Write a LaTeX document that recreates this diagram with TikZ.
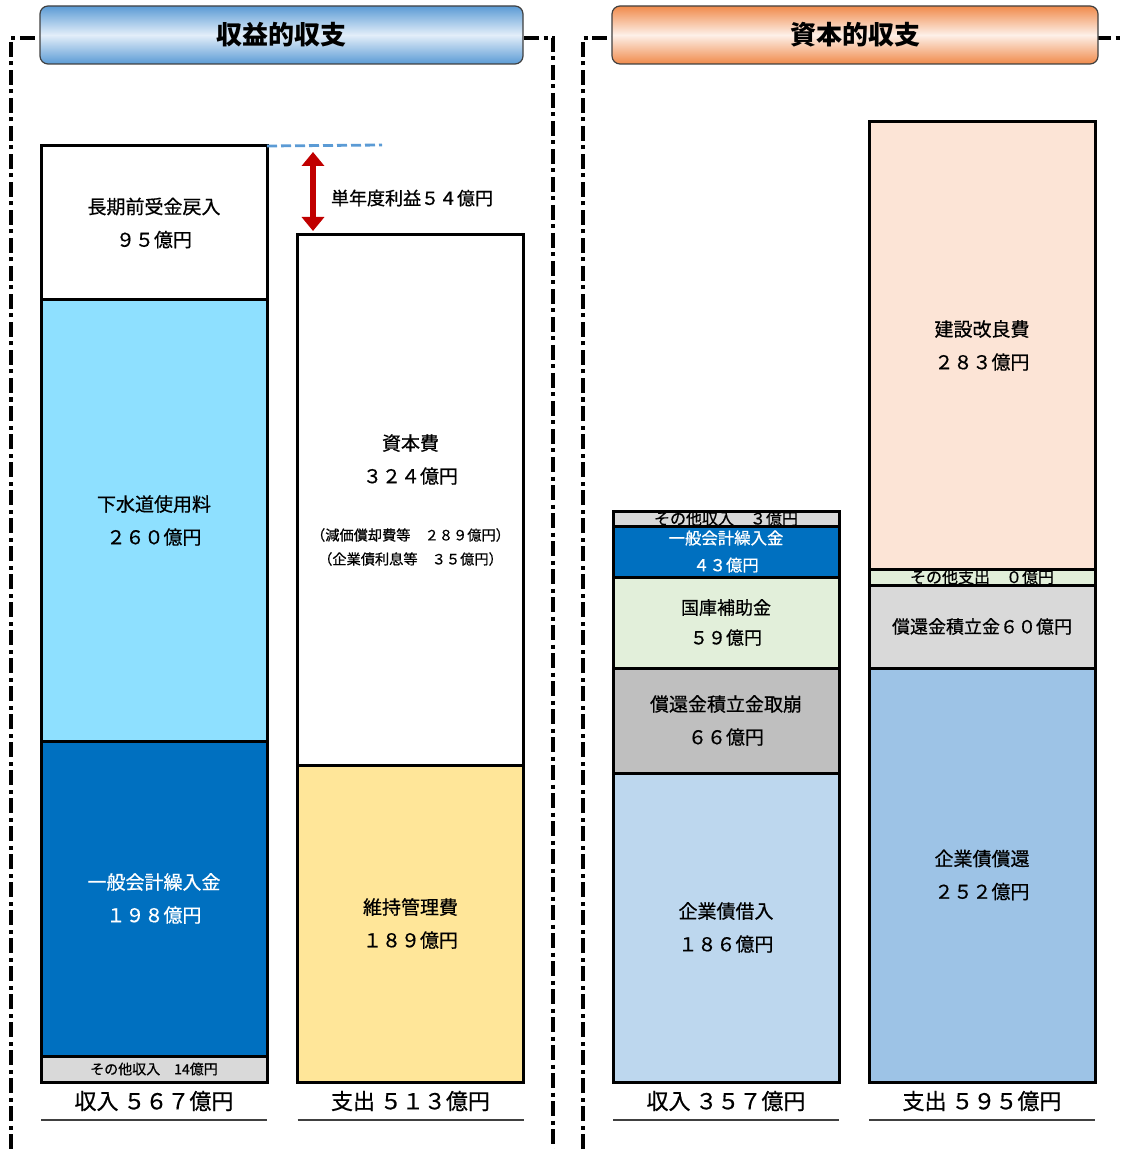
\documentclass[tikz,border=0pt]{standalone}
\usepackage{fontspec}
\setmainfont{Noto Sans CJK JP}[UprightFeatures={FakeBold=0.6}]
\usetikzlibrary{arrows.meta}

\definecolor{hdrblue}{HTML}{5B9BD5}
\definecolor{hdrblueL}{HTML}{E3EEF9}
\definecolor{hdrorange}{HTML}{F08A4B}
\definecolor{hdrorangeL}{HTML}{FDF0E8}
\definecolor{sewage}{HTML}{8EE0FF}
\definecolor{general}{HTML}{0070C0}
\definecolor{othergray}{HTML}{D9D9D9}
\definecolor{midgray}{HTML}{BFBFBF}
\definecolor{upkeep}{HTML}{FFE699}
\definecolor{subsidy}{HTML}{E2EFDA}
\definecolor{bondin}{HTML}{BDD7EE}
\definecolor{bondout}{HTML}{9DC3E6}
\definecolor{build}{HTML}{FCE4D6}
\definecolor{profit}{HTML}{C00000}
\definecolor{levelblue}{HTML}{5B9BD5}

\begin{document}
\begin{tikzpicture}[x=0.5pt, y=-0.5pt,
    seg/.style={draw, line width=1.5pt, minimum width=113pt, inner sep=0pt, outer sep=0pt,
                align=center, font=\fontsize{9.5}{16.5}\selectfont},
    header/.style={draw=black!75, line width=0.6pt, rounded corners=4pt, minimum height=29pt,
                   inner sep=0pt, font=\bfseries\fontsize{13}{15}\selectfont},
    frame/.style={line width=1.6pt, dash pattern=on 7.5pt off 2.25pt on 2pt off 2.25pt},
    total/.style={font=\fontsize{11}{13}\selectfont},
    underline/.style={draw=black!75, line width=0.75pt},
    tinytext/.style={font=\fontsize{8}{9}\selectfont},
    profit arrow/.style={draw=profit, line width=3pt,
                         {Triangle[width=11pt,length=7pt]}-{Triangle[width=11pt,length=7pt]}}
]
\useasboundingbox (0,0) rectangle (1121,1149);

\draw[frame] (11,1149) -- (11,38) -- (553,38) -- (553,1149);
\draw[frame] (583,1149) -- (583,38) -- (1121,38);

\node[header, minimum width=241.5pt, top color=hdrblue, bottom color=hdrblue, middle color=hdrblueL]
    (hdr1) at (281.5,35) {収益的収支};
\node[header, minimum width=243pt, top color=hdrorange, bottom color=hdrorange, middle color=hdrorangeL]
    (hdr2) at (855,35) {資本的収支};

% revenue side
\node[seg, fill=white, minimum height=77pt] (r1a) at (154,223) {長期前受金戻入\\９５億円};
\node[seg, fill=sewage, minimum height=220.5pt] (r1b) at (154,520.5) {下水道使用料\\２６０億円};
\node[seg, fill=general, text=white, minimum height=157.5pt] (r1c) at (154,898.5) {一般会計繰入金\\１９８億円};
\node[seg, fill=othergray, minimum height=13pt, font=\fontsize{7}{8}\selectfont] (r1d) at (154,1069) {その他収入　14億円};

\node[seg, fill=white, minimum height=265pt] (r2a) at (410.5,500) {};
\node[align=center, font=\fontsize{9.5}{16.5}\selectfont] (r2title) at (410.5,459.5) {資本費\\３２４億円};
\node[align=center, font=\fontsize{7.1}{12}\selectfont] (r2note) at (410.5,547) {（減価償却費等　２８９億円）\\（企業債利息等　３５億円）};
\node[seg, fill=upkeep, minimum height=158.5pt] (r2b) at (410.5,923.5) {維持管理費\\１８９億円};

\coordinate (dashend) at (382,145);
\draw[levelblue, line width=1.4pt, dash pattern=on 5pt off 2pt] (r1a.north east) -- (dashend);
\coordinate (atop) at (313,152);
\coordinate (abot) at (313,231);
\draw[profit arrow] (atop) -- (abot);
\node[anchor=west, font=\fontsize{9}{11}\selectfont] (gain) at (324,198) {単年度利益５４億円};

% capital side
\node[seg, fill=othergray, minimum height=7.5pt,
      path picture={\node[tinytext] (r3atext) at (path picture bounding box.center) {その他収入　３億円};}]
    (r3a) at (726,518.5) {};
\node[seg, fill=general, text=white, minimum height=25.5pt, font=\fontsize{8.2}{13.5}\selectfont] (r3b) at (726,551.5) {一般会計繰入金\\４３億円};
\node[seg, fill=subsidy, minimum height=45.5pt, font=\fontsize{9}{15}\selectfont] (r3c) at (726,622.5) {国庫補助金\\５９億円};
\node[seg, fill=midgray, minimum height=52.5pt] (r3d) at (726,720.5) {償還金積立金取崩\\６６億円};
\node[seg, fill=bondin, minimum height=154.5pt] (r3e) at (726,927.5) {企業債借入\\１８６億円};

\node[seg, fill=build, minimum height=223.5pt] (r4a) at (982,345.5) {建設改良費\\２８３億円};
\node[seg, fill=subsidy, minimum height=8pt,
      path picture={\node[tinytext] (r4btext) at (path picture bounding box.center) {その他支出　０億円};}]
    (r4b) at (982,577) {};
\node[seg, fill=othergray, minimum height=41.5pt, font=\fontsize{9}{11}\selectfont] (r4c) at (982,626.5) {償還金積立金６０億円};
\node[seg, fill=bondout, minimum height=207pt] (r4d) at (982,875) {企業債償還\\２５２億円};

% totals
\node[total] (t1) at (154,1101) {収入 ５６７億円};
\node[total] (t2) at (410.5,1101) {支出 ５１３億円};
\node[total] (t3) at (726,1101) {収入 ３５７億円};
\node[total] (t4) at (982,1101) {支出 ５９５億円};
\draw[underline] (r1d.west |- 0,1120) -- (r1d.east |- 0,1120);
\draw[underline] (r2b.west |- 0,1120) -- (r2b.east |- 0,1120);
\draw[underline] (r3e.west |- 0,1120) -- (r3e.east |- 0,1120);
\draw[underline] (r4d.west |- 0,1120) -- (r4d.east |- 0,1120);
\end{tikzpicture}
\end{document}
